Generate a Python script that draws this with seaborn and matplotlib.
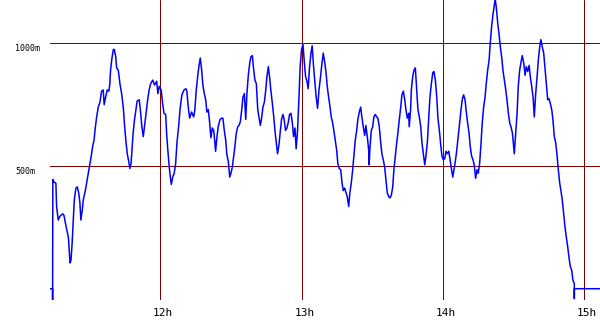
import matplotlib
matplotlib.use("Agg")
import matplotlib.pyplot as plt
from matplotlib.transforms import ScaledTranslation
import seaborn as sns
import pandas as pd

# time in minutes after 11:00, altitude in metres
minutes = [13.3, 14.3, 14.3, 14.4, 14.9, 15.7, 16.0, 16.7, 17.4, 18.6, 19.1, 20.0, 21.0, 21.7, 22.1,
           22.6, 23.1, 23.5, 24.2, 24.8, 25.4, 25.9, 26.3, 26.9, 27.3, 28.2, 29.0, 29.9, 30.7, 31.3,
           31.9, 32.3, 33.0, 33.7, 34.4, 35.1, 35.8, 36.2, 36.8, 37.5, 38.2, 38.6, 38.9, 39.5, 40.1,
           40.5, 41.1, 41.5, 42.2, 42.9, 43.6, 44.3, 44.9, 45.4, 46.0, 46.6, 47.1, 47.6, 48.0, 48.5,
           49.1, 49.7, 50.2, 51.1, 51.7, 52.2, 52.8, 53.5, 54.2, 54.8, 55.3, 55.9, 56.8, 57.6, 58.5,
           59.0, 59.6, 60.4, 61.0, 61.6, 62.3, 62.7, 63.1, 63.7, 64.1, 64.7, 65.3, 65.9, 66.5, 67.1,
           67.8, 68.4, 69.2, 70.1, 70.9, 71.3, 71.9, 72.5, 73.3, 74.2, 74.7, 75.3, 75.9, 76.4, 77.0,
           77.6, 78.1, 78.7, 79.3, 79.8, 80.4, 81.0, 81.5, 82.1, 82.7, 83.2, 83.5, 84.1, 84.6, 85.4,
           86.1, 86.6, 87.2, 87.8, 88.3, 88.9, 89.5, 90.0, 90.6, 91.2, 91.7, 92.3, 92.9, 93.4, 94.0,
           94.6, 95.1, 95.7, 96.3, 96.8, 97.4, 98.0, 98.5, 99.1, 99.7, 100.2, 100.8, 101.4, 101.9, 102.5,
           103.1, 103.6, 104.2, 104.8, 105.3, 105.9, 106.5, 107.0, 107.6, 108.2, 108.7, 109.4, 109.8, 110.4, 110.9,
           111.5, 112.1, 112.6, 113.2, 113.8, 114.4, 114.9, 115.5, 116.1, 116.6, 117.2, 117.7, 118.3, 118.9, 119.4,
           120.0, 120.6, 121.2, 121.7, 122.3, 122.8, 123.4, 124.0, 124.5, 125.1, 125.7, 126.2, 126.8, 127.4, 127.9,
           128.5, 129.2, 129.8, 130.4, 130.9, 131.5, 132.1, 132.6, 133.2, 133.7, 134.3, 134.9, 135.4, 136.0, 136.6,
           137.2, 137.7, 138.3, 138.9, 139.4, 140.0, 140.5, 141.1, 141.7, 142.2, 142.8, 143.4, 143.9, 144.5, 145.1,
           145.6, 146.2, 146.8, 147.3, 147.9, 148.5, 148.7, 149.0, 149.6, 150.2, 150.7, 151.3, 151.9, 152.4, 153.0,
           153.6, 154.1, 154.7, 155.3, 155.8, 156.4, 157.0, 157.5, 158.1, 158.7, 159.2, 159.8, 160.4, 160.9, 161.5,
           162.1, 162.6, 163.2, 163.8, 164.3, 164.9, 165.5, 165.7, 166.3, 166.6, 167.2, 167.7, 168.3, 168.9, 169.4,
           170.0, 170.6, 171.1, 171.7, 172.3, 172.8, 173.4, 174.0, 174.5, 175.1, 175.7, 176.2, 176.8, 177.4, 177.9,
           178.5, 179.1, 179.6, 180.2, 180.8, 181.3, 181.9, 182.5, 183.0, 183.6, 184.2, 184.7, 185.3, 185.9, 186.5,
           187.1, 187.7, 188.2, 188.8, 189.4, 190.0, 190.5, 191.1, 191.6, 192.2, 192.8, 193.3, 193.9, 194.5, 195.0,
           195.6, 196.2, 196.7, 197.3, 197.9, 198.4, 199.0, 199.6, 200.1, 200.7, 201.3, 201.8, 202.2, 202.7, 203.3,
           203.8, 204.4, 205.0, 205.5, 206.1, 206.7, 207.2, 207.8, 208.4, 208.9, 209.5, 209.9, 210.3, 210.9, 211.5,
           212.0, 212.6, 213.2, 213.7, 214.3, 214.9, 215.4, 216.0, 216.6, 217.1, 217.7, 218.3, 218.8, 219.4, 220.0,
           220.5, 221.1, 221.6, 222.2, 222.8, 223.3, 223.9, 224.5, 225.0, 225.6, 226.2, 226.7, 227.3, 227.9, 228.4,
           229.0, 229.6, 230.1, 230.7, 231.3, 231.8, 232.4, 233.0, 233.5, 234.1, 234.7, 235.2, 235.8, 235.8, 235.8,
           246.7]
altitude = [0, 0, -50, 445, 435, 430, 335, 280, 295, 305, 300, 255, 210, 105, 115,
            185, 280, 360, 410, 415, 390, 350, 280, 320, 360, 400, 445, 495, 540, 580,
            605, 645, 700, 740, 760, 805, 810, 750, 780, 810, 805, 835, 890, 940, 975,
            975, 945, 900, 890, 835, 795, 740, 660, 605, 550, 520, 490, 510, 565, 635,
            690, 730, 765, 770, 715, 660, 620, 675, 730, 780, 810, 835, 850, 830, 845,
            795, 825, 810, 755, 715, 710, 635, 580, 510, 470, 425, 455, 470, 505, 595,
            660, 730, 790, 810, 815, 805, 740, 695, 720, 700, 730, 810, 865, 905, 940,
            890, 830, 795, 770, 720, 730, 675, 615, 655, 645, 595, 560, 620, 660, 690,
            695, 695, 645, 605, 545, 520, 455, 470, 495, 540, 580, 635, 660, 665, 680,
            730, 780, 795, 690, 795, 870, 920, 945, 950, 890, 850, 835, 730, 700, 665,
            700, 740, 760, 810, 865, 905, 855, 805, 755, 700, 645, 585, 550, 585, 635,
            690, 710, 690, 645, 655, 680, 710, 715, 675, 620, 655, 570, 645, 780, 905,
            975, 995, 920, 865, 845, 815, 905, 960, 990, 905, 835, 780, 735, 810, 850,
            905, 960, 925, 880, 825, 780, 740, 700, 675, 645, 605, 565, 510, 490, 485,
            430, 400, 410, 390, 375, 335, 390, 430, 485, 540, 605, 645, 690, 720, 740,
            700, 660, 625, 665, 620, 565, 505, 570, 645, 660, 700, 710, 700, 695, 660,
            595, 550, 525, 495, 445, 390, 375, 370, 380, 415, 485, 540, 595, 635, 690,
            740, 790, 805, 770, 730, 695, 715, 660, 730, 810, 865, 890, 900, 810, 730,
            700, 660, 595, 550, 505, 540, 595, 700, 780, 835, 880, 885, 850, 780, 695,
            645, 585, 540, 525, 530, 560, 550, 560, 530, 490, 455, 485, 520, 565, 620,
            675, 730, 770, 790, 770, 715, 675, 635, 580, 540, 525, 505, 450, 485, 470,
            510, 595, 675, 740, 780, 835, 890, 930, 1000, 1070, 1120, 1155, 1180, 1145, 1080,
            1040, 985, 940, 890, 850, 810, 770, 715, 675, 660, 635, 595, 550, 635, 715,
            825, 890, 925, 950, 920, 870, 905, 885, 910, 865, 825, 780, 700, 795, 865,
            930, 985, 1015, 985, 960, 905, 835, 770, 775, 755, 730, 690, 620, 595, 550,
            485, 430, 400, 360, 305, 255, 210, 170, 130, 90, 75, 35, 20, -40, 0,
            0]

hour_ticks = [60, 120, 180, 240]
hour_labels = ["12h", "13h", "14h", "15h"]
alt_ticks = [500, 1000]
alt_labels = ["500m", "1000m"]

df = pd.DataFrame({"minutes": minutes, "altitude": altitude})

sns.set_style("white")
fig = plt.figure(figsize=(6.0, 3.3), dpi=100)
ax = fig.add_axes([50 / 600, 30 / 330, 550 / 600, 300 / 330])

for t in hour_ticks:
    ax.axvline(t, color="#800000", lw=0.72, zorder=1)
for a in alt_ticks:
    ax.axhline(a, color="#800000", lw=0.72, zorder=1)

sns.lineplot(data=df, x="minutes", y="altitude", sort=False, estimator=None,
             color="#0000ff", lw=1.1, ax=ax, zorder=3, legend=False)

ax.set_xlim(13.2, 246.7)
ax.set_ylim(-46, 1176.5)
for s in ax.spines.values():
    s.set_visible(False)
ax.set_xlabel("")
ax.set_ylabel("")

ax.set_xticks(hour_ticks)
ax.set_xticklabels(hour_labels, fontsize=8, family="DejaVu Sans Mono", color="black")
ax.set_yticks(alt_ticks)
ax.set_yticklabels(alt_labels, fontsize=6, family="DejaVu Sans Mono", color="black")
ax.tick_params(axis="both", length=0)
ax.tick_params(axis="x", pad=6)
ax.tick_params(axis="y", pad=25)

for lab in ax.get_yticklabels():
    lab.set_horizontalalignment("left")
    lab.set_transform(lab.get_transform() + ScaledTranslation(0, -4 / 100, fig.dpi_scale_trans))
for lab in ax.get_xticklabels():
    lab.set_transform(lab.get_transform() + ScaledTranslation(3 / 100, 0, fig.dpi_scale_trans))

fig.savefig("out.png", dpi=100)
